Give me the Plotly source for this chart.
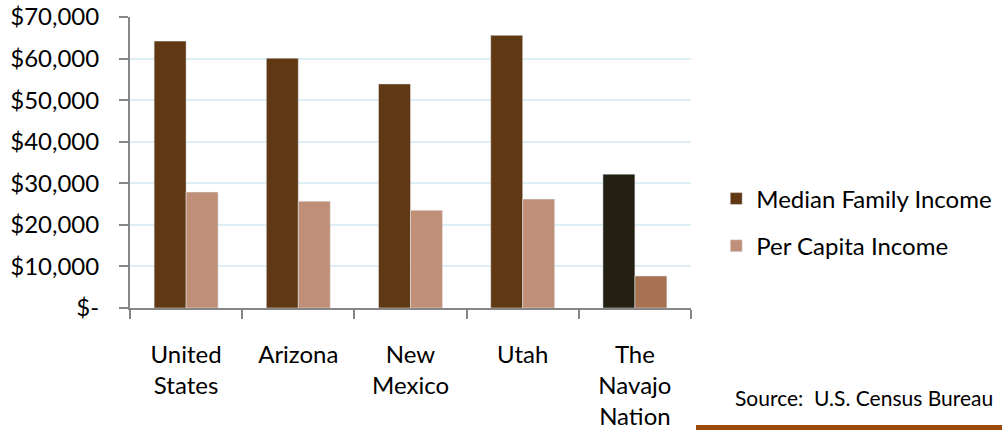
import plotly.graph_objects as go

categories = ["United<br>States", "Arizona", "New<br>Mexico", "Utah", "The<br>Navajo<br>Nation"]
median_family_income = [64200, 60100, 53900, 65600, 32200]
per_capita_income = [27900, 25700, 23500, 26200, 7700]
y_tick_values = [0, 10000, 20000, 30000, 40000, 50000, 60000, 70000]
y_tick_labels = ["$-", "$10,000", "$20,000", "$30,000", "$40,000", "$50,000", "$60,000", "$70,000"]

median_colors = ["#603813", "#603813", "#603813", "#603813", "#231F13"]
capita_colors = ["#BF9077", "#BF9077", "#BF9077", "#BF9077", "#A67252"]

FONT = "Lato"

fig = go.Figure()
fig.add_trace(go.Bar(
    x=categories, y=median_family_income, name="Median Family Income",
    marker=dict(color=median_colors), legendgroup="a",
))
fig.add_trace(go.Bar(
    x=categories, y=per_capita_income, name="Per Capita Income",
    marker=dict(color=capita_colors), legendgroup="b",
))

fig.update_layout(
    width=1002, height=430,
    margin=dict(l=130, r=311, t=17, b=122, autoexpand=False),
    paper_bgcolor="white", plot_bgcolor="white",
    barmode="group", bargap=0.43, bargroupgap=0,
    font=dict(family=FONT, size=23, color="#000000"),
    showlegend=True,
    legend=dict(
        x=1.045, xanchor="left", y=0.452, yanchor="top",
        font=dict(family=FONT, size=24, color="#000000"),
        tracegroupgap=13, traceorder="grouped", itemwidth=30,
        bgcolor="rgba(0,0,0,0)",
    ),
    xaxis=dict(
        automargin=False,
        showline=True, linecolor="#868686", linewidth=2,
        ticks="outside", tickson="boundaries", ticklen=9, tickcolor="#868686", tickwidth=2,
        showgrid=False, ticklabelstandoff=24,
        tickfont=dict(family=FONT, size=24, color="#000000"),
    ),
    yaxis=dict(
        automargin=False,
        range=[0, 70000], tickvals=y_tick_values, ticktext=y_tick_labels,
        showline=True, linecolor="#868686", linewidth=2,
        ticks="outside", ticklen=9, tickcolor="#868686", tickwidth=2,
        showgrid=True, gridcolor="#DDEEF5", gridwidth=2,
        zeroline=False, ticklabelstandoff=15,
        tickfont=dict(family=FONT, size=24, color="#000000"),
    ),
    annotations=[dict(
        text="Source:  U.S. Census Bureau", xref="paper", yref="paper",
        x=(733 - 130) / 561, y=(308 - 397) / 291, xanchor="left", yanchor="middle",
        showarrow=False, font=dict(family=FONT, size=21, color="#000000"),
    )],
    shapes=[dict(
        type="rect", xref="paper", yref="paper",
        x0=(696 - 130) / 561, x1=(1010 - 130) / 561,
        y0=(308 - 425) / 291, y1=(308 - 440) / 291,
        fillcolor="#9A4A0B", line=dict(width=0), layer="above",
    )],
)

fig.write_html(
    "out.html",
    config={"displayModeBar": False},
    post_script="document.body.style.margin='0';document.body.style.padding='0';",
)
